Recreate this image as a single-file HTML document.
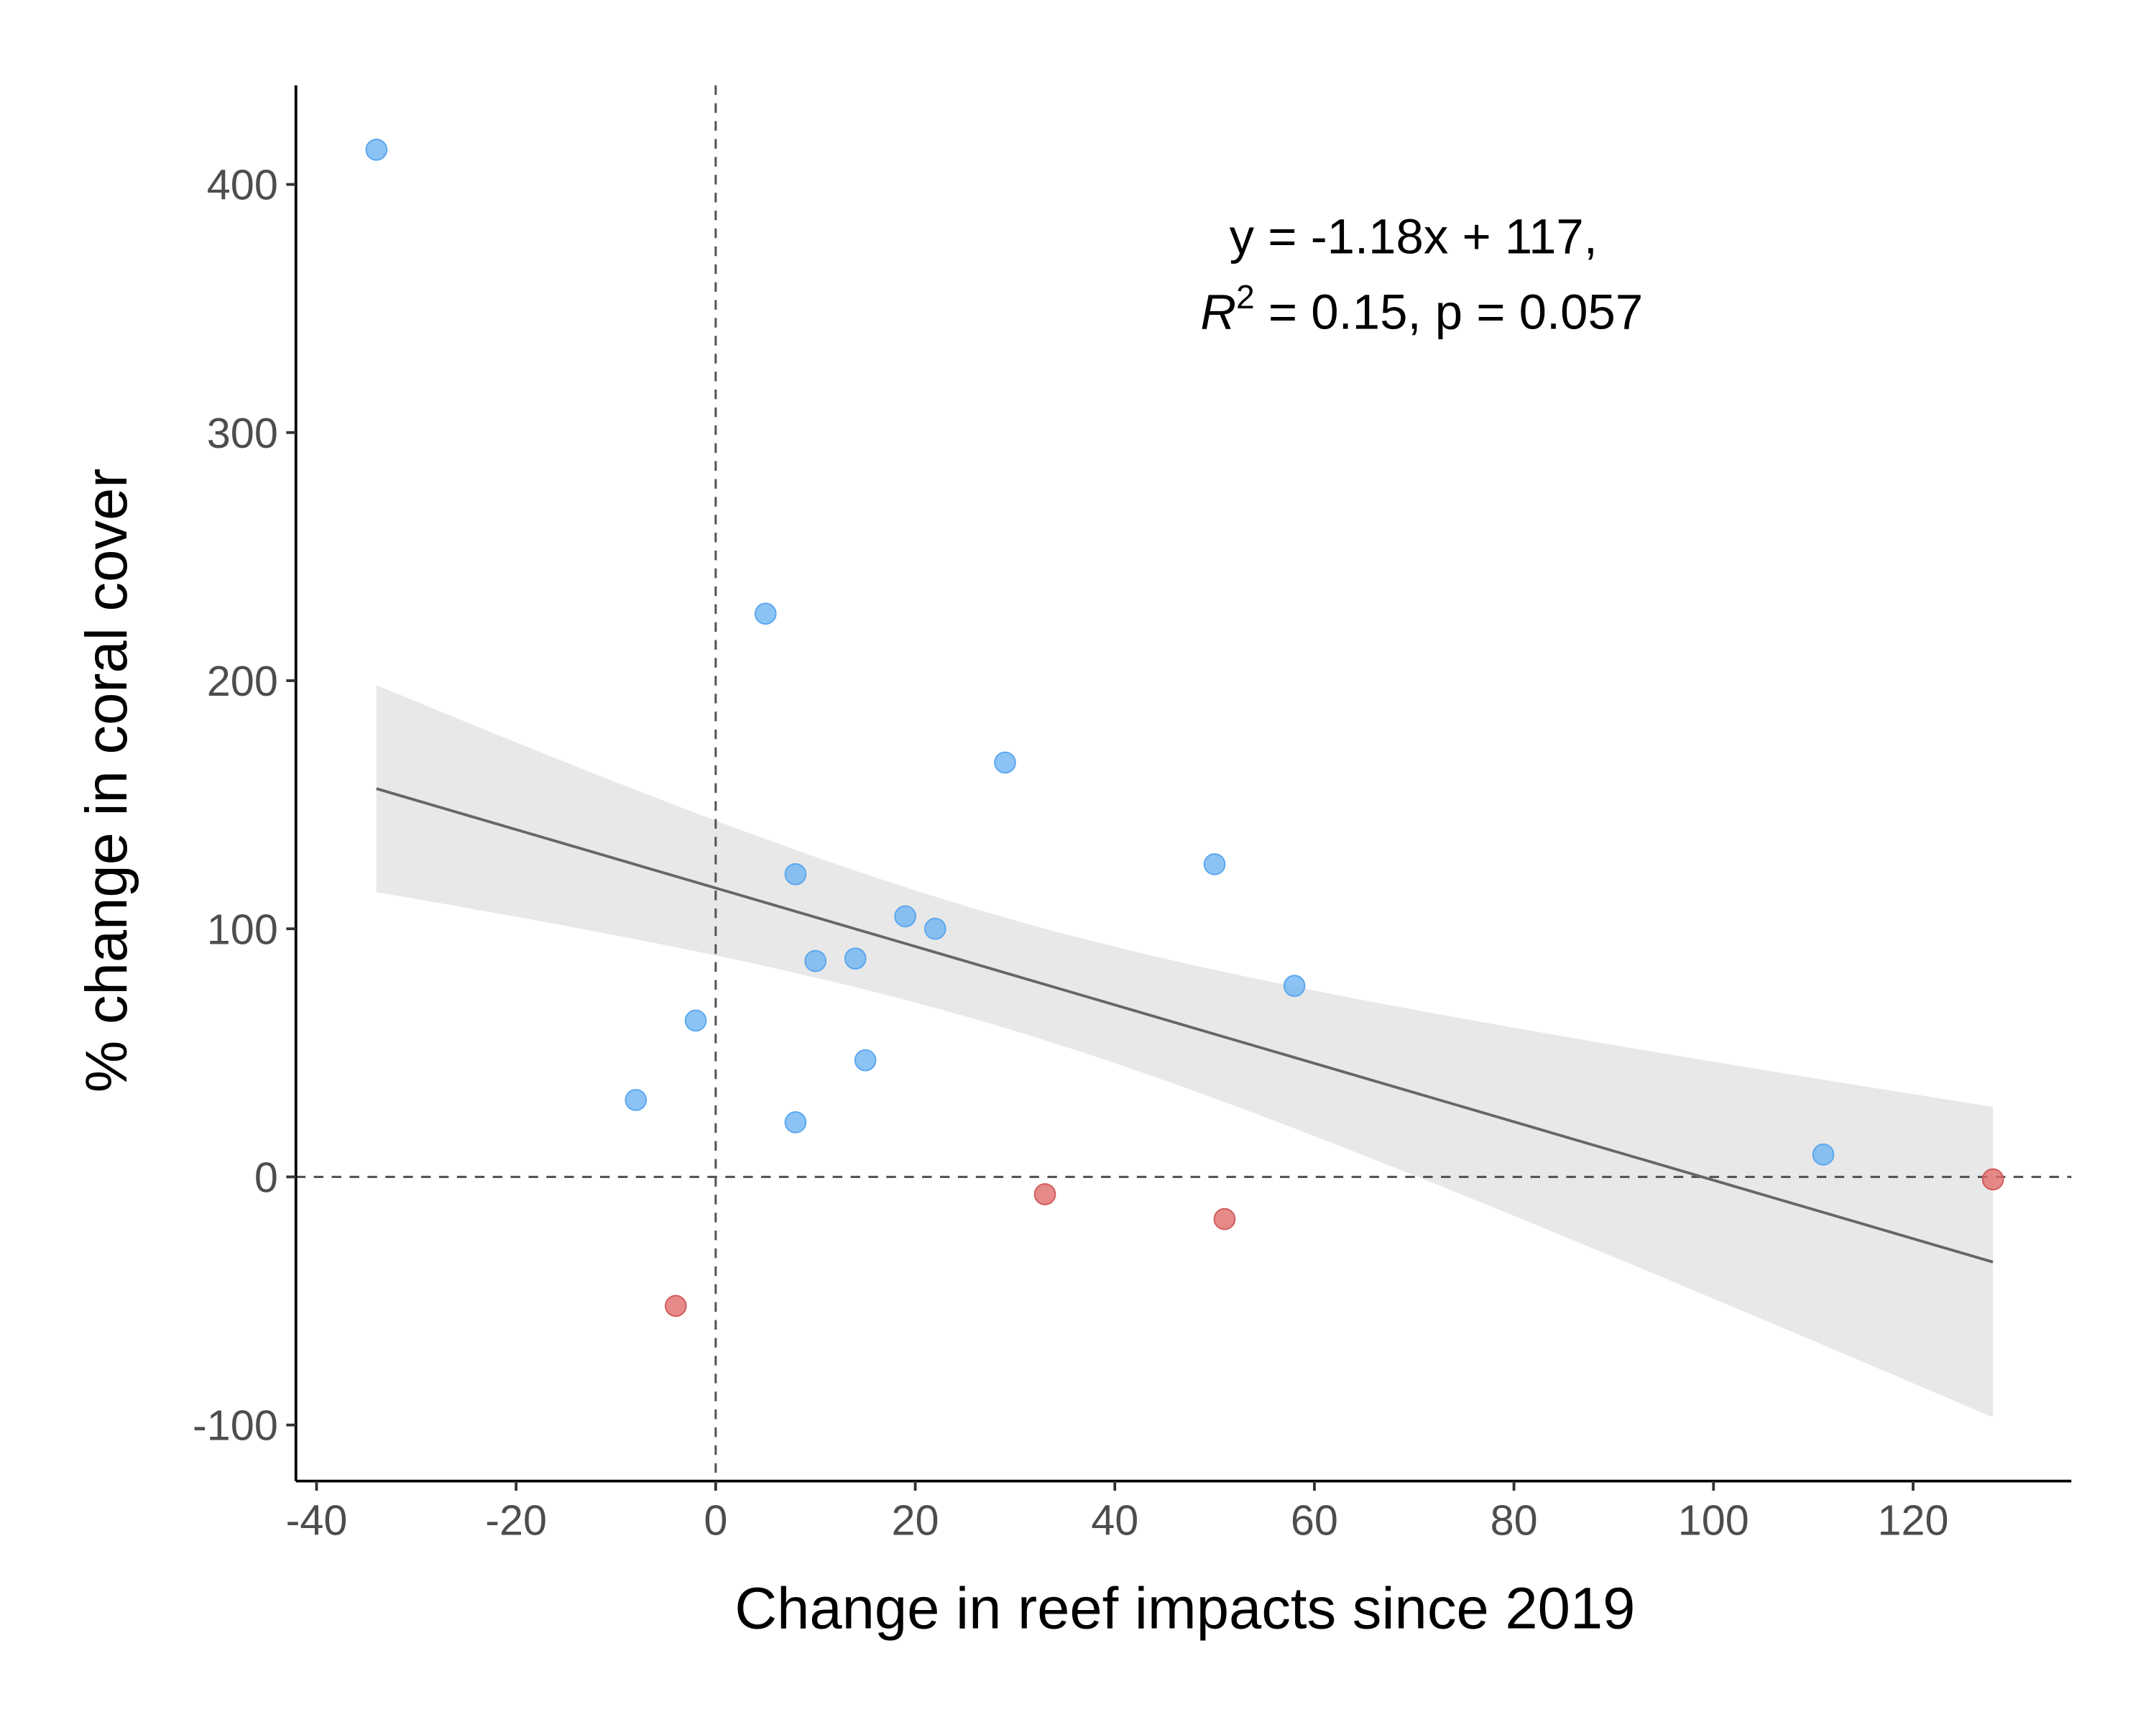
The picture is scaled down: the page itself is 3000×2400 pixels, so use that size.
<!DOCTYPE html>
<html><head><meta charset="utf-8"><style>
html,body{margin:0;padding:0;background:#fff}
svg{display:block}
text{font-family:"Liberation Sans",Arial,sans-serif}
</style></head><body>
<svg id="chart" width="3000" height="2400" viewBox="0 0 1566.5 1253.2" xmlns="http://www.w3.org/2000/svg">
<rect width="1566.5" height="1253.2" fill="#fff"/>
<g id="band"></g><g id="refs"></g><g id="fit"></g><g id="pts"></g><g id="axes"></g>
<text x="1027" y="184" font-size="36" text-anchor="middle">y = -1.18x + 117,</text>
<text x="1033" y="239" font-size="36" text-anchor="middle"><tspan font-style="italic">R</tspan><tspan dy="-15" font-size="24">2</tspan><tspan dy="15"> = 0.15, p = 0.057</tspan></text>
<text x="861" y="1183" font-size="42.5" text-anchor="middle">Change in reef impacts since 2019</text>
<text transform="translate(92,567) rotate(-90)" font-size="42.5" text-anchor="middle">% change in coral cover</text>
</svg>
<script>
const xVals=[-34,5,29,8,50,19,22,10,14,58,-2,15,-8,8,111,33,51,-4,128];
const yVals=[414,227,167,122,126,105,100,87,88,77,63,47,31,22,9,-7,-17,-52,-1];
const groups=["pos","pos","pos","pos","pos","pos","pos","pos","pos","pos","pos","pos","pos","pos","pos","neg","neg","neg","neg"];
const xTicks=[-40,-20,0,20,40,60,80,100,120];
const yTicks=[-100,0,100,200,300,400];
const NS="http://www.w3.org/2000/svg";
const sx=v=>520+v*7.25, sy=v=>855-v*1.8025;
function mk(tag,attrs,parent){const e=document.createElementNS(NS,tag);for(const k in attrs)e.setAttribute(k,attrs[k]);document.getElementById(parent).appendChild(e);return e;}
const n=xVals.length;const mx=xVals.reduce((a,b)=>a+b)/n,my=yVals.reduce((a,b)=>a+b)/n;
let sxx=0,sxy=0;for(let i=0;i<n;i++){sxx+=(xVals[i]-mx)**2;sxy+=(xVals[i]-mx)*(yVals[i]-my);}
const b=sxy/sxx,a=my-b*mx;let sse=0;for(let i=0;i<n;i++)sse+=(yVals[i]-a-b*xVals[i])**2;
const s=Math.sqrt(sse/(n-2)),t=1.0;
const xmin=Math.min(...xVals),xmax=Math.max(...xVals);
let up=[],lo=[];for(let k=0;k<=80;k++){const x=xmin+(xmax-xmin)*k/80;const f=a+b*x;const h=t*s*Math.sqrt(1/n+(x-mx)**2/sxx);up.push(sx(x)+","+sy(f+h));lo.unshift(sx(x)+","+sy(f-h));}
let e=mk("polygon",{points:up.concat(lo).join(" "),fill:"#e8e8e8"},"band");


e=mk("line",{x1:sx(0),x2:sx(0),y1:62,y2:1076,stroke:"#555","stroke-width":1.6,"stroke-dasharray":"7,6"},"refs");


e=mk("line",{x1:215,x2:1505,y1:sy(0),y2:sy(0),stroke:"#555","stroke-width":1.6,"stroke-dasharray":"7,6"},"refs");


e=mk("line",{x1:sx(xmin),y1:sy(a+b*xmin),x2:sx(xmax),y2:sy(a+b*xmax),stroke:"#666","stroke-width":2},"fit");


for(let i=0;i<n;i++){const pos=groups[i]==="pos";
 e=mk("circle",{cx:sx(xVals[i]),cy:sy(yVals[i]),r:7.5,fill:pos?"#6fb4f2":"#e06b6b","fill-opacity":0.8,stroke:pos?"#5aa6ee":"#d05a5a","stroke-width":1},"pts");
 
 }
e=mk("line",{x1:215,x2:1505,y1:1076,y2:1076,stroke:"#000","stroke-width":2},"axes");


e=mk("line",{x1:215,x2:215,y1:62,y2:1076,stroke:"#000","stroke-width":2},"axes");


xTicks.forEach(v=>{mk("line",{x1:sx(v),x2:sx(v),y1:1076,y2:1083,stroke:"#333","stroke-width":2},"axes");
 e=mk("text",{x:sx(v),y:1115,"font-size":31,"text-anchor":"middle",fill:"#4d4d4d"},"axes");e.textContent=v;
 
 });
yTicks.forEach(v=>{mk("line",{x1:208,x2:215,y1:sy(v),y2:sy(v),stroke:"#333","stroke-width":2},"axes");
 e=mk("text",{x:202,y:sy(v)+11,"font-size":31,"text-anchor":"end",fill:"#4d4d4d"},"axes");e.textContent=v;
 
 });
</script>
</body></html>
